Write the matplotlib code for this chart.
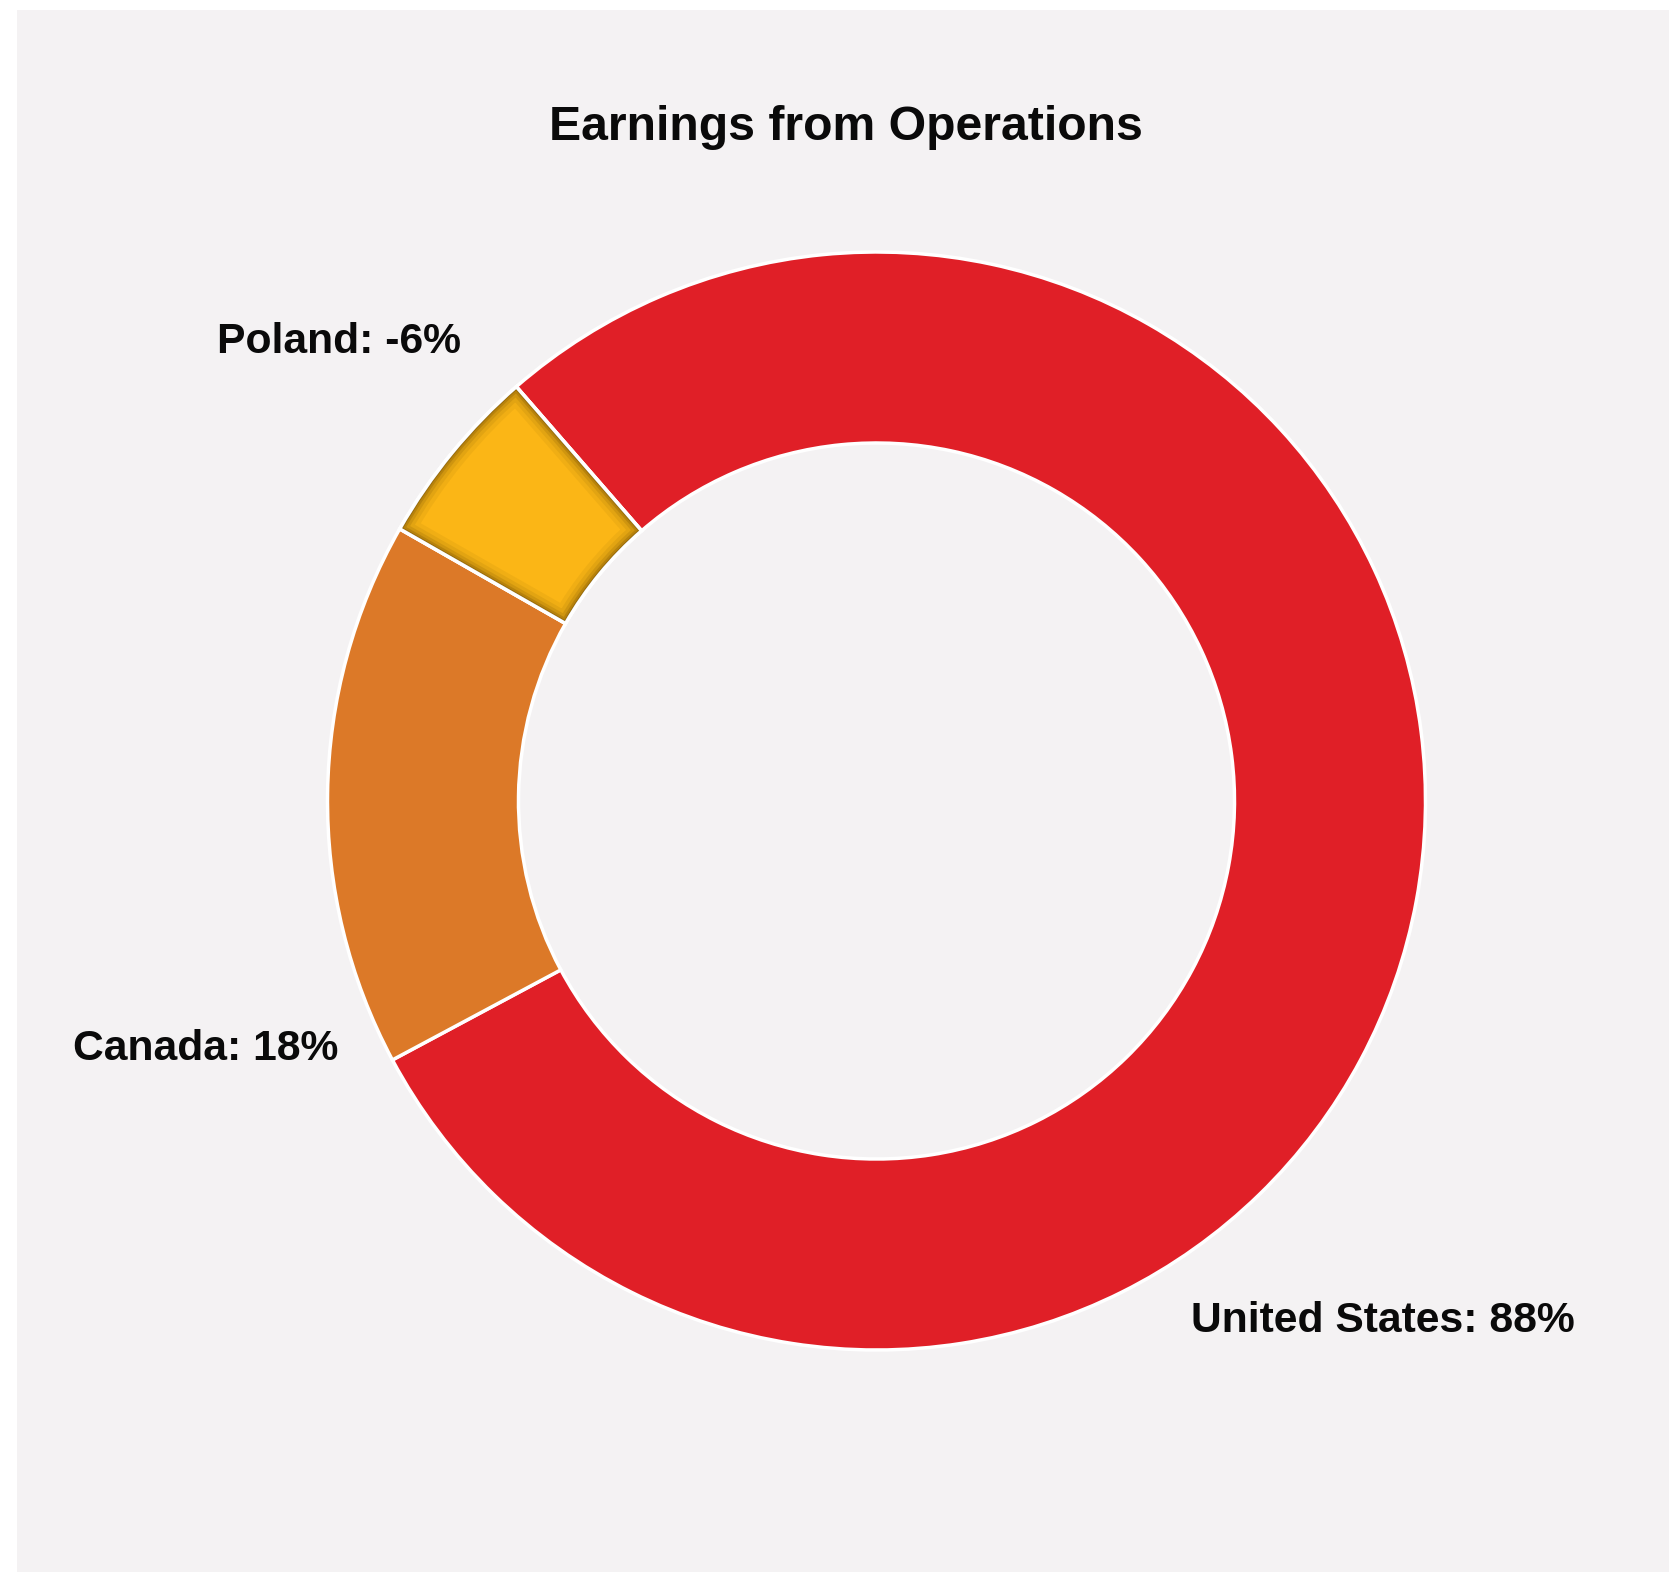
import matplotlib
matplotlib.use("Agg")
import matplotlib.pyplot as plt
from matplotlib.patches import Rectangle, Wedge

# data
countries = ["United States", "Canada", "Poland"]
shares = [88, 18, -6]
colors = ["#e01f27", "#dc7928", "#fbb616"]

W, H = 1672, 1577
fig = plt.figure(figsize=(W / 100, H / 100), dpi=100)
fig.patch.set_facecolor("white")
ax = fig.add_axes([0, 0, 1, 1])
ax.set_xlim(0, W)
ax.set_ylim(0, H)
ax.set_aspect("equal")
ax.axis("off")

# grey panel
ax.add_patch(Rectangle((17, 5), 1652, 1562, facecolor="#f4f2f3", edgecolor="none", zorder=0))

center = (876.5, 776.0)
radius = 549
ring = 191

# negative share drawn by its size
sizes = [abs(v) for v in shares]
wedges, _ = ax.pie(sizes, colors=colors, startangle=131, counterclock=False,
                   center=center, radius=radius, frame=True,
                   wedgeprops=dict(width=ring, edgecolor="white", linewidth=2.5))
ax.set_xlim(0, W)
ax.set_ylim(0, H)
ax.axis("off")

# inner shadow on the Poland slice
pw = wedges[2]
for lw, a in [(22, 0.06), (16, 0.08), (11, 0.12), (7, 0.18), (4, 0.25), (2, 0.3)]:
    s = Wedge(pw.center, pw.r, pw.theta1, pw.theta2, width=pw.width,
              facecolor="none", edgecolor="#4a3000", linewidth=lw, alpha=a, zorder=3)
    ax.add_patch(s)
    s.set_clip_path(pw)
ax.add_patch(Wedge(pw.center, pw.r, pw.theta1, pw.theta2, width=pw.width,
                   facecolor="none", edgecolor="white", linewidth=2.5, zorder=4))

font = "Liberation Sans"
ax.text(846, H - 127, "Earnings from Operations", ha="center", va="center",
        fontsize=34.7, fontweight="bold", family=font, color="#0a0a0a")

label_pos = [(1383, H - 1321), (206, H - 1049), (339, H - 342)]
for name, v, (x, y) in zip(countries, shares, label_pos):
    ax.text(x, y, f"{name}: {v}%", ha="center", va="center",
            fontsize=30.7, fontweight="bold", family=font, color="#0a0a0a")

fig.savefig("out.png", dpi=100, facecolor=fig.get_facecolor())
